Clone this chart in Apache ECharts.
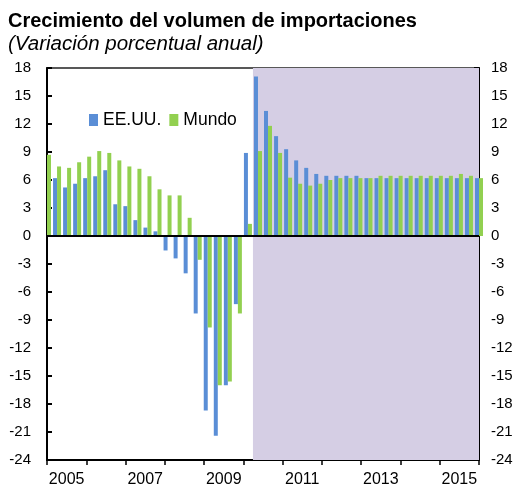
<!DOCTYPE html>
<html>
<head>
<meta charset="utf-8">
<script src="https://cdn.jsdelivr.net/npm/echarts@6/dist/echarts.min.js"></script>
<style>
html,body{margin:0;padding:0;background:#fff;}
#chart{width:526px;height:494px;}
</style>
</head>
<body>
<div id="chart"></div>
<script>
// Quarterly periods (first one sits on the left edge, last on the right edge)
const quarters = [
 "2004T4",
 "2005T1","2005T2","2005T3","2005T4",
 "2006T1","2006T2","2006T3","2006T4",
 "2007T1","2007T2","2007T3","2007T4",
 "2008T1","2008T2","2008T3","2008T4",
 "2009T1","2009T2","2009T3","2009T4",
 "2010T1","2010T2","2010T3","2010T4",
 "2011T1","2011T2","2011T3","2011T4",
 "2012T1","2012T2","2012T3","2012T4",
 "2013T1","2013T2","2013T3","2013T4",
 "2014T1","2014T2","2014T3","2014T4",
 "2015T1","2015T2","2015T3"
];
// first US value falls outside the plot area in the source (not visible)
const usa = [
 null,
 6.2, 5.2, 5.6, 6.2,
 6.4, 7.05, 3.4, 3.2,
 1.7, 0.9, 0.5, -1.55,
 -2.4, -4.0, -8.3, -18.7,
 -21.4, -16.0, -7.3, 8.9,
 17.1, 13.4, 10.7, 9.3,
 8.1, 7.3, 6.65, 6.45,
 6.45, 6.45, 6.45, 6.2,
 6.2, 6.2, 6.2, 6.2,
 6.2, 6.2, 6.2, 6.2,
 6.2, 6.2, 6.2
];
const world = [
 8.7,
 7.45, 7.3, 7.9, 8.5,
 9.1, 8.9, 8.1, 7.45,
 7.2, 6.4, 5.0, 4.35,
 4.35, 1.95, -2.55, -9.8,
 -16.0, -15.6, -8.3, 1.3,
 9.1, 11.8, 8.9, 6.25,
 5.6, 5.4, 5.6, 6.0,
 6.2, 6.2, 6.2, 6.2,
 6.45, 6.45, 6.45, 6.45,
 6.45, 6.45, 6.45, 6.45,
 6.65, 6.45, 6.2
];
const years = ["2005","2006","2007","2008","2009","2010","2011","2012","2013","2014","2015"];
const seriesNames = ["EE.UU.", "Mundo"];
const forecastStart = "2010T1"; // shading begins between 2009T4 and 2010T1

const FONT = "'Liberation Sans', Arial, sans-serif";
const chart = echarts.init(document.getElementById('chart'), null, {renderer: 'canvas'});
const idxStart = quarters.indexOf(forecastStart) - 0.5;

const yAxisCommon = {
  type: 'value', min: -24, max: 18, interval: 3,
  axisLine: {show: true, lineStyle: {color: '#000', width: 2}},
  axisTick: {show: true, inside: true, length: 5, lineStyle: {color: '#000', width: 2}},
  splitLine: {show: false},
  axisLabel: {color: '#000', fontFamily: FONT, fontSize: 15}
};

chart.setOption({
  animation: false,
  backgroundColor: '#fff',
  title: [
    {text: 'Crecimiento del volumen de importaciones', left: 3, top: 6,
     textStyle: {fontFamily: FONT, fontSize: 20, fontWeight: 'bold', color: '#000'}},
    {text: '(Variación porcentual anual)', left: 3, top: 29,
     textStyle: {fontFamily: FONT, fontSize: 20.5, fontStyle: 'italic', fontWeight: 'normal', color: '#000'}}
  ],
  legend: {
    data: seriesNames, left: 84, top: 106, icon: 'rect', itemWidth: 9, itemHeight: 12,
    itemGap: 8, textStyle: {fontFamily: FONT, fontSize: 17.5, color: '#000'}
  },
  grid: {left: 47, right: 47, top: 68, bottom: 34, show: true, borderColor: '#222', borderWidth: 1.5, containLabel: false},
  xAxis: [
    {type: 'value', min: 0, max: quarters.length - 1, show: false},
    {type: 'category', data: years, position: 'bottom', boundaryGap: true,
     axisLine: {show: true, onZero: false, lineStyle: {color: '#000', width: 2}},
     axisTick: {show: true, interval: 0, length: 5, lineStyle: {color: '#000', width: 1.5}},
     axisLabel: {interval: 1, color: '#000', fontFamily: FONT, fontSize: 16, margin: 12},
     splitLine: {show: false}}
  ],
  yAxis: [
    Object.assign({}, yAxisCommon, {position: 'left', axisLabel: Object.assign({}, yAxisCommon.axisLabel, {margin: 16})}),
    Object.assign({}, yAxisCommon, {position: 'right', axisLabel: Object.assign({}, yAxisCommon.axisLabel, {margin: 12})})
  ],
  series: [
    {
      name: 'forecast', type: 'line', xAxisIndex: 0, yAxisIndex: 0, data: [], z: 0, silent: true,
      markArea: {silent: true, itemStyle: {color: '#D5CEE4'},
        data: [[{xAxis: idxStart}, {xAxis: quarters.length - 1}]]}
    },
    {
      name: seriesNames[0], type: 'bar', xAxisIndex: 0, yAxisIndex: 0, z: 2,
      barWidth: 4, barGap: '0%', clip: true,
      itemStyle: {color: '#5A8ED6'},
      data: usa.map((v, i) => [i, v]),
      markLine: {silent: true, symbol: 'none', label: {show: false},
        lineStyle: {color: '#000', width: 2, type: 'solid'},
        data: [{yAxis: 0}]}
    },
    {
      name: seriesNames[1], type: 'bar', xAxisIndex: 0, yAxisIndex: 0, z: 2,
      barWidth: 4, barGap: '0%', clip: true,
      itemStyle: {color: '#92D050'},
      data: world.map((v, i) => [i, v])
    }
  ]
});
</script>
</body>
</html>
